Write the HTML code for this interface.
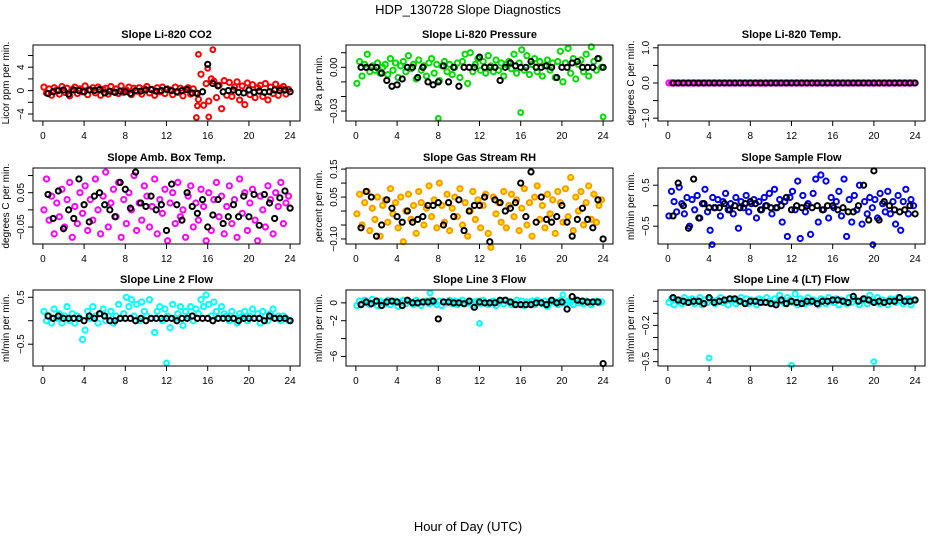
<!DOCTYPE html>
<html><head><meta charset="utf-8"><style>
html,body{margin:0;padding:0;background:#fff;}
svg{display:block;font-family:"Liberation Sans",sans-serif;}
</style></head><body>
<svg id="chart" width="936" height="540" viewBox="0 0 936 540">
<text x="468" y="14" text-anchor="middle" font-size="13">HDP_130728  Slope Diagnostics</text>
<text x="468" y="531" text-anchor="middle" font-size="13">Hour of Day (UTC)</text>
</svg>
<script>
// ---- data ----
const xTicks = [0,4,8,12,16,20,24];
const co2Color = [0.6,-0.4,0.3,-0.8,0.5,0.1,-0.6,0.7,-0.3,0.4,-0.9,0.2,0.6,-0.5,0.3,-0.2,0.8,-0.7,0.1,0.5,-0.4,0.6,-0.8,0.2,0.4,-0.6,0.7,-0.2,0.3,-0.5,0.8,-0.3,0.1,0.6,-0.7,0.4,-0.1,0.5,-0.6,0.3,0.7,-0.4,0.2,-0.8,0.5,-0.2,0.6,-0.5,0.3,0.1,-0.7,0.6,-0.3,0.4,-0.9,0.2,0.5,-0.6,0.3,-0.4,-1.5,2.8,-2.5,1.2,-1.8,2.0,1.6,-1.2,0.9,-3.1,1.7,-0.8,1.4,-1.0,0.6,1.5,-1.6,0.8,-2.4,1.3,-0.7,1.0,-1.2,0.5,0.9,-1.0,1.2,-1.6,0.6,-0.5,1.1,-0.8,0.4,0.7,-0.6,0.2];
const co2OutX = [14.9,15.1,16.1,16.5,16.0,15.0];
const co2OutY = [-4.6,6.2,-4.5,7.0,3.8,-2.6];
const co2Black = [-0.5,-0.2,0,0.1,-0.6,0.1,0,-0.2,0.1,0,0.2,-0.4,-0.1,-0.3,-0.1,-0.2,-0.5,0,-0.1,0.1,0.2,-0.1,0,0.2,0,-0.2,0,0.2,-0.4,-0.5,-0.2,4.5,1.2,0.8,-0.2,0,0.1,-0.3,-0.4,0.1,-0.3,-0.1,-0.3,-0.2,0.1,0,0.1,-0.2];
const presColor = [-0.011,0.004,-0.006,0.002,0.009,-0.003,0.001,-0.002,0.003,-0.004,0.000,0.002,-0.005,0.006,-0.002,0.003,-0.007,0.001,0.004,-0.003,0.008,-0.001,0.002,-0.008,0.005,-0.002,0.001,-0.006,0.003,0.006,-0.004,0.002,-0.009,0.001,0.004,-0.003,0.002,-0.005,0.000,0.003,-0.007,0.004,0.009,-0.011,0.010,-0.003,0.002,0.006,-0.002,0.004,-0.004,0.008,0.001,-0.003,0.005,-0.002,0.003,-0.006,0.002,0.004,-0.001,0.009,-0.004,0.003,0.012,-0.002,0.008,-0.005,0.002,0.006,-0.003,0.004,-0.006,0.001,0.005,-0.002,0.003,-0.007,0.004,0.011,-0.010,0.003,0.013,-0.004,0.006,-0.008,0.002,0.005,-0.003,0.009,-0.006,0.014,0.004,-0.002,0.006,0.000];
const presOutX = [8.0,16.0,24.0];
const presOutY = [-0.035,-0.031,-0.034];
const presBlack = [0,0,0,0,-0.004,-0.009,-0.013,-0.012,-0.008,0,0,-0.007,0,-0.010,-0.012,-0.010,0.001,-0.010,0,-0.013,0,0,0,0.007,0,0,0,-0.009,0,0.003,0.001,0,0,0.004,0,0,0.001,0,-0.007,0,0,0.003,0.004,0,0,0,0.006,0];
const tempColor = [0,0,0,0,0,0,0,0,0,0,0,0,0,0,0,0,0,0,0,0,0,0,0,0,0,0,0,0,0,0,0,0,0,0,0,0,0,0,0,0,0,0,0,0,0,0,0,0,0,0,0,0,0,0,0,0,0,0,0,0,0,0,0,0,0,0,0,0,0,0,0,0,0,0,0,0,0,0,0,0,0,0,0,0,0,0,0,0,0,0,0,0,0,0,0,0];
const tempBlack = [0,0,0,0,0,0,0,0,0,0,0,0,0,0,0,0,0,0,0,0,0,0,0,0,0,0,0,0,0,0,0,0,0,0,0,0,0,0,0,0,0,0,0,0,0,0,0,0];
const ambColor = [0.00,0.09,-0.03,0.04,-0.07,0.02,-0.02,0.06,-0.05,0.03,0.08,-0.08,0.01,-0.04,0.05,-0.01,0.07,-0.06,0.03,-0.03,0.09,0.00,-0.07,0.04,0.11,-0.05,0.02,0.06,-0.02,0.08,-0.08,0.03,-0.04,0.05,0.00,0.10,-0.06,0.02,-0.03,0.07,0.04,-0.05,0.01,0.09,-0.07,0.03,-0.01,0.06,-0.09,0.02,0.05,-0.04,0.08,-0.02,0.00,-0.08,0.04,0.07,-0.05,0.02,-0.03,0.06,0.01,-0.09,0.05,-0.06,0.03,0.08,-0.02,0.04,-0.07,0.01,0.07,-0.04,0.03,-0.08,0.09,-0.01,0.05,-0.06,0.02,0.06,-0.03,-0.09,0.04,0.00,-0.05,0.07,0.03,-0.07,0.05,0.01,0.08,-0.04,0.02,0.04];
const ambBlack = [0.045,-0.025,0.055,-0.055,0.000,-0.025,0.09,0.015,-0.035,0.04,0.05,0.015,0.000,-0.02,0.08,0.06,0.005,0.11,0.02,0.01,0.04,0.00,0.015,-0.06,0.075,0.015,-0.03,0.050,0.01,-0.01,0.03,-0.05,-0.015,0.030,-0.04,-0.02,0.015,-0.02,0.04,-0.02,0.045,-0.045,0.045,0.02,-0.025,0.035,0.055,0.005];
const rhColor = [-0.01,0.06,-0.05,0.03,0.07,-0.07,0.01,-0.03,0.05,-0.09,0.02,0.04,-0.04,0.08,-0.01,0.03,-0.06,0.05,-0.11,0.00,0.06,-0.03,0.02,-0.08,0.07,0.03,-0.05,0.01,0.09,-0.02,0.04,-0.06,0.10,0.02,-0.04,0.06,-0.07,0.01,0.05,-0.02,0.08,-0.05,0.03,-0.09,0.00,0.07,-0.03,0.04,-0.06,0.02,0.06,-0.08,-0.13,0.05,-0.01,0.03,-0.04,0.07,-0.06,0.02,0.06,-0.02,0.04,-0.07,0.01,0.08,-0.05,0.03,-0.09,0.05,0.09,-0.03,0.02,-0.06,0.06,-0.01,0.04,-0.08,0.07,0.03,-0.04,0.08,-0.02,0.12,-0.07,0.05,0.00,0.07,-0.05,0.03,0.09,-0.03,0.06,-0.04,0.02,0.04];
const rhBlack = [-0.06,0.07,0.05,-0.09,-0.05,0.04,0.01,-0.02,-0.04,0.00,-0.04,-0.03,-0.02,0.02,0.02,0.03,-0.05,0.03,-0.02,0.04,-0.07,0.00,0.02,0.02,0.05,-0.11,0.04,0.03,0.00,0.01,0.03,0.10,-0.02,0.14,-0.04,0.05,-0.03,-0.04,-0.02,0.02,-0.04,-0.09,-0.03,0.01,-0.03,-0.06,0.04,-0.10];
const flowColor = [-0.25,0.35,0.1,-0.15,0.45,0.05,-0.2,0.2,-0.5,0.15,-0.1,0.25,-0.3,0.05,0.4,-0.15,-0.6,0.2,-0.05,0.15,-0.25,0.1,0.3,-0.1,0.05,-0.2,0.2,-0.55,0.1,-0.05,0.25,-0.15,0.05,0.15,-0.3,0.1,-0.1,0.2,0.0,0.3,-0.2,0.4,-0.05,0.15,-0.4,0.1,-0.75,0.2,0.35,-0.1,0.6,-0.8,0.25,-0.15,0.05,-0.7,0.3,0.65,-0.4,0.75,-0.1,0.6,-0.3,0.2,-0.05,0.1,0.35,-0.25,0.65,-0.75,0.15,-0.4,0.25,-0.1,0.5,-0.45,0.1,-0.2,0.2,-0.05,0.15,-0.3,0.3,0.05,-0.15,0.35,-0.2,0.1,-0.45,0.25,-0.6,0.1,0.4,-0.2,0.15,0.0];
const flowOutX = [4.3,19.9];
const flowOutY = [-0.95,-0.95];
const flowBlack = [-0.25,0.55,0.0,-0.55,0.65,-0.3,0.05,-0.05,-0.05,-0.05,0.05,-0.1,0.0,-0.05,0.05,0.1,0.05,-0.1,0.0,-0.05,-0.05,0.0,0.2,-0.1,0.0,-0.05,0.0,-0.05,0.0,-0.1,0.0,0.0,-0.1,-0.05,-0.15,-0.15,0.0,0.5,-0.35,0.85,-0.35,0.1,0.0,-0.1,-0.15,-0.1,0.0,-0.2];
const line2Color = [0.2,0.0,0.1,-0.05,0.25,0.05,0.15,-0.05,0.1,0.3,0.0,0.15,-0.05,0.1,0.05,-0.4,-0.2,0.2,0.05,0.3,0.1,-0.05,0.15,0.25,0.0,0.1,0.2,-0.05,0.1,0.35,0.05,0.15,0.5,0.3,0.45,0.1,0.35,0.0,0.4,0.2,0.1,0.45,0.05,-0.25,0.2,0.3,0.0,0.25,0.1,-0.15,0.35,0.05,0.15,0.3,-0.1,0.2,0.1,0.3,0.0,0.25,0.15,0.45,0.3,0.55,0.35,0.1,0.4,0.2,0.05,0.3,0.15,0.1,0.0,0.2,0.05,-0.05,0.15,0.1,0.2,0.0,0.1,0.25,0.05,0.15,-0.05,0.2,0.1,0.0,0.15,0.25,0.05,0.1,0.0,0.1,0.05,0.0];
const line2OutX = [12.0];
const line2OutY = [-0.9];
const line2Black = [0.1,0.05,0.1,0.05,0.05,0.05,0.05,0.0,0.1,0.05,0.15,0.1,0.0,0.0,0.05,0.05,0.05,0.0,0.05,0.0,0.05,0.05,0.05,0.05,0.05,0.0,0.05,0.05,0.1,0.05,0.05,0.05,0.0,0.05,0.05,0.05,0.05,0.0,0.05,0.05,0.05,0.05,0.0,0.1,0.05,0.05,0.05,0.0];
const line3Color = [-0.3,0.2,-0.1,0.3,0.0,-0.2,0.4,0.1,-0.3,0.2,0.0,-0.1,0.3,-0.2,0.1,0.2,-0.4,0.0,0.3,-0.1,0.2,0.1,-0.2,0.3,0.0,-0.3,0.1,0.2,-0.1,0.3,0.0,-0.2,0.2,-0.3,0.1,0.0,0.3,-0.1,0.2,-0.2,0.1,0.3,-0.1,0.0,0.2,-0.3,0.1,0.2,-0.1,0.3,0.0,-0.2,0.1,0.2,-0.3,0.0,0.2,-0.1,0.3,0.1,-0.2,0.0,0.3,-0.1,0.2,-0.3,0.1,0.0,0.2,-0.2,0.3,0.1,-0.1,0.2,-0.4,0.0,0.2,0.1,-0.2,0.3,0.0,-0.1,0.2,0.1,-0.2,0.3,0.0,0.1,-0.1,0.2,0.0,-0.2,0.1,0.2,0.0,0.1];
const line3OutX = [12.0,7.2,20.1];
const line3OutY = [-2.3,1.1,0.9];
const line3Black = [-0.2,0.1,-0.1,0.2,-0.3,0.1,0.2,0.1,-0.3,0.3,0.0,0.0,0.1,0.1,0.2,-1.8,0.1,0.1,0.0,0.0,-0.1,0.2,-0.5,0.1,0.0,0.0,0.0,0.3,0.3,0.1,-0.2,-0.2,-0.2,-0.2,0.0,0.0,-0.2,0.3,0.0,0.1,-0.7,0.7,0.3,0.2,0.1,0.1,0.1,-6.8];
const line4Color = [-0.01,0.02,-0.03,0.01,0.0,-0.02,0.03,-0.01,0.01,0.02,-0.02,0.0,0.03,-0.03,0.01,-0.01,0.02,0.0,-0.02,0.01,0.03,-0.01,0.0,-0.03,0.02,0.01,-0.02,0.0,0.03,-0.01,0.02,-0.02,0.01,0.0,-0.03,0.02,0.01,-0.01,0.03,0.0,-0.02,0.02,-0.01,0.05,0.0,-0.02,0.03,0.01,-0.01,0.06,-0.03,0.02,0.0,-0.02,0.03,-0.01,0.01,0.0,-0.03,0.02,0.01,-0.02,0.03,0.0,-0.01,0.02,-0.03,0.01,0.0,-0.02,0.03,-0.01,0.02,0.0,-0.03,0.01,0.02,-0.02,0.05,0.0,-0.01,0.03,-0.02,0.01,0.0,-0.03,0.02,0.01,-0.01,0.03,0.0,-0.02,0.01,0.02,-0.03,0.01];
const line4OutX = [4.0,12.0,20.0];
const line4OutY = [-0.47,-0.53,-0.5];
const line4Black = [0.03,0.01,0.0,-0.01,0.0,0.0,-0.02,0.03,-0.01,0.0,0.01,0.02,0.02,0.0,-0.02,0.0,0.0,-0.01,-0.01,-0.02,-0.03,0.01,-0.02,0.0,-0.01,-0.02,0.0,0.0,-0.02,0.0,0.0,0.01,0.01,0.0,-0.01,0.04,0.0,0.02,0.01,-0.01,0.0,-0.01,0.0,0.0,0.03,0.0,0.0,0.01];
const titles = ["Slope Li-820 CO2","Slope Li-820 Pressure","Slope Li-820 Temp.","Slope Amb. Box Temp.","Slope Gas Stream RH","Slope Sample Flow","Slope Line 2 Flow","Slope Line 3 Flow","Slope Line 4 (LT) Flow"];
const yTitles = ["Licor ppm per min.","kPa per min.","degrees C per min.","degrees C per min.","percent per min.","ml/min per min.","ml/min per min.","ml/min per min.","ml/min per min."];
const yTickVals = [[-4,-2,0,2,4,6],[-0.03,-0.02,-0.01,0,0.01],[-1,-0.5,0,0.5,1],[-0.05,0,0.05,0.1],[-0.1,-0.05,0,0.05,0.1,0.15],[-0.5,0,0.5],[-0.5,0,0.5],[-6,-4,-2,0],[-0.5,-0.4,-0.3,-0.2,-0.1,0]];
const yTickLabels = [["-4","","0","","4",""],["-0.03","","","0.00",""],["-1.0","","0.0","","1.0"],["-0.05","","0.05",""],["-0.10","","","0.05","","0.15"],["-0.5","","0.5"],["-0.5","","0.5"],["-6","","-2","0"],["-0.5","","","-0.2","",""]];
const yLims = [[-5.2,7.8],[-0.0368,0.0153],[-1.08,1.08],[-0.0995,0.122],[-0.118,0.154],[-0.935,0.92],[-0.965,0.655],[-7.07,1.44],[-0.536,0.093]];
const colorSeries = [co2Color,presColor,tempColor,ambColor,rhColor,flowColor,line2Color,line3Color,line4Color];
const blackSeries = [co2Black,presBlack,tempBlack,ambBlack,rhBlack,flowBlack,line2Black,line3Black,line4Black];
const outX = [co2OutX,presOutX,[],[],[],flowOutX,line2OutX,line3OutX,line4OutX];
const outY = [co2OutY,presOutY,[],[],[],flowOutY,line2OutY,line3OutY,line4OutY];
const colors = ["#ff0000","#00dd00","#ff00ff","#ff00ff","#ff9900","#0000ff","#00ffff","#00ffff","#00ffff"];
const fills = ["none","none","none","none","#ffee00","none","none","none","none"];

// ---- layout ----
const NS = "http://www.w3.org/2000/svg";
const svg = document.getElementById('chart');
const boxL = [33,346,658], boxW = 267;
const boxT = [45,168,290], boxH = 76;
function mk(tag, attrs, parent){ const e=document.createElementNS(NS,tag); for(const k in attrs) e.setAttribute(k,attrs[k]); (parent||svg).appendChild(e); return e; }

for(let p=0;p<9;p++){
  const L = boxL[p%3], T = boxT[Math.floor(p/3)];
  const xs = h => L + (h + 0.96) / 25.92 * boxW;
  const [y0,y1] = yLims[p];
  const ys = v => T + boxH - (v - y0) / (y1 - y0) * boxH;
  const g = mk('g',{});
  
  
  const t = mk('text',{x:L+boxW/2,y:T-7,'text-anchor':'middle','font-size':11,'font-weight':'bold'},g);
  t.textContent = titles[p];
  
  
  const yt = mk('text',{transform:`translate(${L-24},${T+boxH/2}) rotate(-90)`,'text-anchor':'middle','font-size':10},g);
  yt.textContent = yTitles[p];
  
  
  const pts = mk('g',{'stroke-width':2},g);
  
  
  const cs = colorSeries[p];
  for(let i=0;i<cs.length;i++){
    const c = mk('circle',{cx:xs(0.1+i*0.25),cy:ys(cs[i]),r:2.6,stroke:colors[p],fill:fills[p]},pts);
    
    
  }
  for(let i=0;i<outX[p].length;i++){
    const c = mk('circle',{cx:xs(outX[p][i]),cy:ys(outY[p][i]),r:2.4,stroke:colors[p],fill:'none'},pts);
    
    
  }
  const bs = blackSeries[p];
  for(let i=0;i<bs.length;i++){
    const c = mk('circle',{cx:xs(0.5+i*0.5),cy:ys(bs[i]),r:2.6,stroke:'#000',fill:'none'},pts);
    
    
  }
  const b = mk('rect',{x:L,y:T,width:boxW,height:boxH,fill:'none',stroke:'#000','stroke-width':1},g);
  
  
  const xa = mk('g',{},g);
  
  
  mk('line',{x1:xs(xTicks[0]),x2:xs(xTicks[xTicks.length-1]),y1:T+boxH,y2:T+boxH,stroke:'#000'},xa);
  xTicks.forEach(v=>{
    mk('line',{x1:xs(v),x2:xs(v),y1:T+boxH,y2:T+boxH+5,stroke:'#000'},xa);
    const l = mk('text',{x:xs(v),y:T+boxH+18,'text-anchor':'middle','font-size':10},xa);
    l.textContent = v;
    
    
  });
  const ya = mk('g',{},g);
  
  
  const tv = yTickVals[p];
  mk('line',{x1:L,x2:L,y1:ys(tv[0]),y2:ys(tv[tv.length-1]),stroke:'#000'},ya);
  tv.forEach((v,i)=>{
    mk('line',{x1:L-5,x2:L,y1:ys(v),y2:ys(v),stroke:'#000'},ya);
    if(yTickLabels[p][i]){
      const l = mk('text',{transform:`translate(${L-9},${ys(v)}) rotate(-90)`,'text-anchor':'middle','font-size':10},ya);
      l.textContent = yTickLabels[p][i].replace('-','\u2212');
      
      
    }
  });
}
</script>
</body></html>
